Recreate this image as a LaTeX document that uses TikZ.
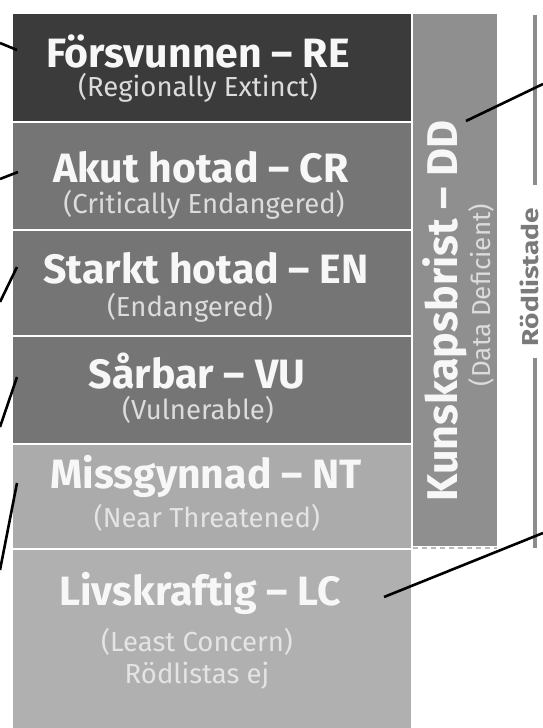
\documentclass[tikz,border=0pt]{standalone}
\usepackage{fontspec}
\setmainfont{Fira Sans}
\definecolor{cRE}{HTML}{3B3B3B}
\definecolor{cMid}{HTML}{757575}
\definecolor{cNT}{HTML}{ABABAB}
\definecolor{cLC}{HTML}{B0B0B0}
\definecolor{cDD}{HTML}{8F8F8F}
\definecolor{cBr}{HTML}{8C8C8C}
\definecolor{cRl}{HTML}{7A7A7A}
\definecolor{cTitle}{HTML}{F7F7F7}
\definecolor{cSub}{HTML}{DCDCDC}
\definecolor{cSubL}{HTML}{E4E4E4}
\begin{document}
\begin{tikzpicture}[x=1pt,y=-1pt,
  rowbox/.style={rectangle,draw=none,fill=#1,inner sep=0pt,outer sep=0pt,anchor=north west,minimum width=398pt},
  ttl/.style={text=cTitle,font=\bfseries\fontsize{41}{44}\selectfont,inner sep=0pt},
  sub/.style={text=cSub,font=\fontsize{27.5}{30}\selectfont,inner sep=0pt},
  conn/.style={black,line width=2.6pt},
  brk/.style={cBr,line width=4pt}]
\useasboundingbox (0,0) rectangle (543,728);
% rows
\node[rowbox=cRE,minimum height=107pt] (re) at (13,14) {};
\node[rowbox=cMid,minimum height=106pt] (cr) at (13,123) {};
\node[rowbox=cMid,minimum height=104pt] (en) at (13,231) {};
\node[rowbox=cMid,minimum height=106pt] (vu) at (13,337) {};
\node[rowbox=cNT,minimum height=103pt] (nt) at (13,445) {};
\node[rowbox=cLC,minimum height=178pt] (lc) at (13,550) {};
% DD column
\node[rectangle,fill=cDD,inner sep=0pt,outer sep=0pt,anchor=north west,minimum width=84pt,minimum height=532pt] (dd) at (413,14) {};
\coordinate (ddbl) at (413,548);
\coordinate (ddbr) at (497,548);
\draw[cBr!60,line width=1.5pt,dash pattern=on 5pt off 4pt] (ddbl) -- (ddbr);
% texts
\node[ttl] (reT) at (198,51) {Försvunnen – RE};
\node[sub] (reS) at (198,88) {(Regionally Extinct)};
\node[ttl] (crT) at (201,167) {Akut hotad – CR};
\node[sub] (crS) at (204,205) {(Critically Endangered)};
\node[ttl] (enT) at (206,268) {Starkt hotad – EN};
\node[sub] (enS) at (190,308) {(Endangered)};
\node[ttl] (vuT) at (197,371) {Sårbar – VU};
\node[sub] (vuS) at (198,410) {(Vulnerable)};
\node[ttl] (ntT) at (206,476) {Missgynnad – NT};
\node[sub,text=cSubL] (ntS) at (207,518) {(Near Threatened)};
\node[ttl] (lcT) at (200,593) {Livskraftig – LC};
\node[sub,text=cSubL] (lcS) at (197,642) {(Least Concern)};
\node[sub,text=cSubL] (lcS2) at (197,676) {Rödlistas ej};
\node[ttl,rotate=90,font=\bfseries\fontsize{43}{46}\selectfont] (ddT) at (445,311) {Kunskapsbrist – DD};
\node[sub,rotate=90,text=cSub,font=\fontsize{26}{30}\selectfont] (ddS) at (481,295) {(Data Deficient)};
% Rödlistade bracket
\node[rotate=90,text=cRl,inner sep=0pt,font=\bfseries\fontsize{23}{26}\selectfont] (rl) at (529,277) {\scalebox{1.22}[1]{Rödlistade}};
\coordinate (brTop) at (534.5,15);
\coordinate (brA) at (534.5,185);
\coordinate (brB) at (534.5,358);
\coordinate (brBot) at (534.5,548);
\draw[brk] (brTop) -- (brA);
\draw[brk] (brB) -- (brBot);
% connectors (free ends outside)
\coordinate (reIn) at (17,50);  \coordinate (reOut) at (0,43);
\coordinate (crIn) at (18,172); \coordinate (crOut) at (0,179);
\coordinate (enIn) at (17,267); \coordinate (enOut) at (0,302);
\coordinate (vuIn) at (17,377); \coordinate (vuOut) at (0,427);
\coordinate (ntIn) at (17,483); \coordinate (ntOut) at (0,570);
\coordinate (ddIn) at (466,121); \coordinate (ddOut) at (543,84);
\coordinate (lcIn) at (384,597); \coordinate (lcOut) at (543,533);
\draw[conn] (reOut) -- (reIn);
\draw[conn] (crOut) -- (crIn);
\draw[conn] (enOut) -- (enIn);
\draw[conn] (vuOut) -- (vuIn);
\draw[conn] (ntOut) -- (ntIn);
\draw[conn] (ddIn) -- (ddOut);
\draw[conn] (lcIn) -- (lcOut);
\end{tikzpicture}
\end{document}
